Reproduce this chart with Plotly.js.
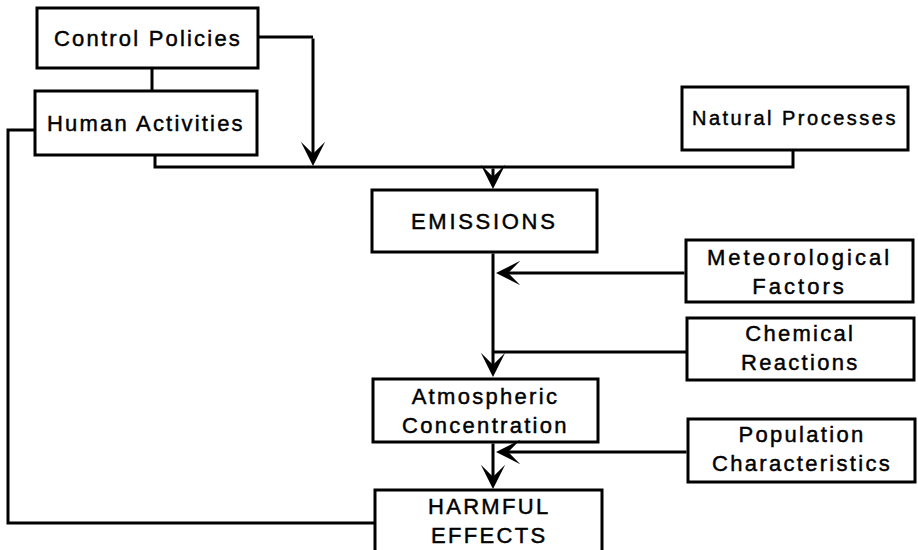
<!DOCTYPE html>
<html>
<head>
<meta charset="utf-8">
<script src="https://cdn.plot.ly/plotly-3.0.1.min.js"></script>
<style>
  html, body { margin: 0; padding: 0; background: #ffffff; }
  #chart { width: 918px; height: 550px; }
</style>
</head>
<body>
<div id="chart"></div>
<script>
// ---- content: node labels ----
const nodeLabels = [
  'Control Policies',
  'Human Activities',
  'Natural Processes',
  'EMISSIONS',
  'Atmospheric<br>Concentration',
  'HARMFUL<br>EFFECTS',
  'Meteorological<br>Factors',
  'Chemical<br>Reactions',
  'Population<br>Characteristics'
];

// ---- geometry (canvas units, 918 x 550, y downward) ----
const boxLeft   = [37, 35, 682, 372, 373, 375, 686, 687, 688];
const boxRight  = [258, 257, 908, 597, 598, 602, 913, 914, 915];
const boxTop    = [8, 91, 87, 190, 379, 490, 240, 318, 419];
const boxBottom = [68, 155, 150, 252, 442, 600, 302, 380, 482];
const labelY    = [38, 123, 118, 221, 411, 521, 272, 348, 449];

// ---- style ----
const fontSizes = [22, 22, 20, 22, 22, 22, 22, 22, 22];
const tracking  = [2.2, 2.2, 2.5, 2.7, 2.3, 2.3, 3.0, 2.3, 2.3];

// plain connector polylines
const connectorX = [
  [152, 152],
  [155, 155, 793, 793],
  [258, 313],
  [35, 8, 8, 375],
  [687, 493]
];
const connectorY = [
  [68, 91],
  [155, 167, 167, 150],
  [37, 37],
  [130, 130, 523, 523],
  [352, 352]
];
// arrows: tail -> tip
const arrowFromX = [313, 493, 493, 686, 688, 493];
const arrowFromY = [37, 167, 252, 273, 452, 442];
const arrowToX   = [313, 493, 493, 496, 496, 493];
const arrowToY   = [166, 189, 377, 273, 452, 489];

const FONT = '"Liberation Sans", Arial, Helvetica, sans-serif';

// one line trace with gaps
const lx = [], ly = [];
connectorX.forEach((xs, i) => {
  xs.forEach((v, j) => { lx.push(v); ly.push(connectorY[i][j]); });
  lx.push(null); ly.push(null);
});
const traces = [{
  type: 'scatter', mode: 'lines', x: lx, y: ly,
  line: { color: '#000', width: 3 }, hoverinfo: 'skip', showlegend: false
}];

const shapes = nodeLabels.map((_, i) => ({
  type: 'rect', xref: 'x', yref: 'y',
  x0: boxLeft[i], x1: boxRight[i], y0: boxTop[i], y1: boxBottom[i],
  line: { color: '#000', width: 3 }, fillcolor: '#ffffff', layer: 'above'
}));

function track(label, t) {
  return label.split('<br>').map(l =>
    '<span style="letter-spacing:' + t + 'px;stroke:#000;stroke-width:0.45px">' + l + '</span>'
  ).join('<br>');
}

const annotations = nodeLabels.map((lab, i) => ({
  xref: 'x', yref: 'y',
  x: (boxLeft[i] + boxRight[i]) / 2, y: labelY[i],
  text: track(lab, tracking[i]), showarrow: false,
  xanchor: 'center', yanchor: 'middle', align: 'center',
  font: { family: FONT, size: fontSizes[i], color: '#000' }
}));

arrowToX.forEach((_, i) => {
  annotations.push({
    xref: 'x', yref: 'y', axref: 'x', ayref: 'y',
    x: arrowToX[i], y: arrowToY[i], ax: arrowFromX[i], ay: arrowFromY[i],
    text: '', showarrow: true, arrowhead: 3, arrowsize: 1.35, arrowwidth: 3,
    arrowcolor: '#000', standoff: 0, startstandoff: 0
  });
});

const layout = {
  width: 918, height: 550,
  margin: { l: 0, r: 0, t: 0, b: 0 },
  paper_bgcolor: '#ffffff', plot_bgcolor: '#ffffff',
  xaxis: { range: [0, 918], visible: false, fixedrange: true },
  yaxis: { range: [550, 0], visible: false, fixedrange: true },
  shapes: shapes,
  annotations: annotations,
  showlegend: false
};

Plotly.newPlot('chart', traces, layout, { staticPlot: true, displayModeBar: false });
</script>
</body>
</html>
